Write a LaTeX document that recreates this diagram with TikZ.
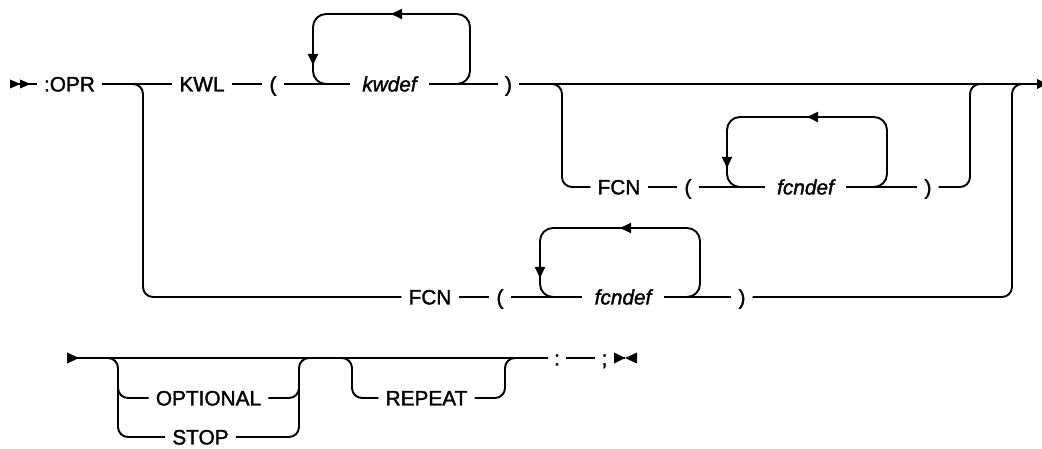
\documentclass[tikz,border=0pt]{standalone}
\usepackage{fontspec}
\setmainfont{Liberation Sans}[FakeBold=1.6]
\usetikzlibrary{arrows.meta}
\begin{document}
\begin{tikzpicture}[x=1pt,y=-1pt,
  rail/.style={line width=1.9pt},
  br/.style={rail, rounded corners=10pt},
  lp/.style={rail, rounded corners=13pt},
  tok/.style={inner xsep=7pt, inner ysep=0pt, text height=14.9pt, text depth=0pt, font=\fontsize{20.8}{24}\selectfont},
  var/.style={tok, inner xsep=12pt, font=\fontsize{20.8}{24}\selectfont\itshape},
  tip/.style={line width=1.9pt, -{Triangle[length=11pt,width=10pt]}},
  mk/.style={fill=black, draw=none}
]
\useasboundingbox (0,0) rectangle (1042,449);

% ---------- row 1 ----------
\coordinate (s1) at (10,84);
\coordinate (e1) at (1037,84);
\node[tok] (opr) at (69.5,84) {:OPR};
\node[tok] (kwl) at (202,84) {KWL};
\node[tok] (lp1) at (273,84) {(};
\node[var] (kwdef) at (389.5,84) {kwdef};
\node[tok] (rp1) at (508.5,84) {)};

\draw[rail] (s1) -- (opr);
\draw[rail] (opr) -- (kwl);
\draw[rail] (kwl) -- (lp1);
\draw[rail] (lp1) -- (kwdef);
\draw[rail] (kwdef) -- (rp1);
\draw[rail] (rp1) -- (e1);
\path[mk] (10,79.5) -- (20.5,84) -- (10,88.5) -- cycle;
\path[mk] (20,79.5) -- (30.5,84) -- (20,88.5) -- cycle;
\path[mk] (1037,79) -- (1047,84) -- (1037,89) -- cycle;

% kwdef repeat loop
\coordinate (k1) at (450,84);
\coordinate (k2) at (333,84);
\draw[lp] (k1) -- (470,84) -- (470,14) -- (313,14) -- (313,84) -- (k2);
\draw[tip] (402,14) -- (391,14);
\draw[tip] (313,50) -- (313,65);

% ---------- optional FCN branch (row 2) ----------
\node[tok] (fcn1) at (619,187) {FCN};
\node[tok] (lp2) at (688,187) {(};
\node[var] (fcndef1) at (805.5,187) {fcndef};
\node[tok] (rp2) at (928,187) {)};
\coordinate (b1) at (540,84);
\coordinate (b2) at (990,84);
\draw[br] (b1) -- (562,84) -- (562,187) -- (fcn1);
\draw[rail] (fcn1) -- (lp2);
\draw[rail] (lp2) -- (fcndef1);
\draw[rail] (fcndef1) -- (rp2);
\draw[br] (rp2) -- (970,187) -- (970,84) -- (b2);
\coordinate (f1) at (867,187);
\coordinate (f2) at (747,187);
\draw[lp] (f1) -- (887,187) -- (887,117) -- (727,117) -- (727,187) -- (f2);
\draw[tip] (818,117) -- (807,117);
\draw[tip] (727,153) -- (727,168);

% ---------- alternative FCN branch (row 3) ----------
\node[tok] (fcn2) at (430,297) {FCN};
\node[tok] (lp3) at (500,297) {(};
\node[var] (fcndef2) at (623,297) {fcndef};
\node[tok] (rp3) at (742,297) {)};
\coordinate (a1) at (123,84);
\coordinate (a2) at (1032,84);
\draw[br] (a1) -- (143,84) -- (143,297) -- (fcn2);
\draw[rail] (fcn2) -- (lp3);
\draw[rail] (lp3) -- (fcndef2);
\draw[rail] (fcndef2) -- (rp3);
\draw[br] (rp3) -- (1012,297) -- (1012,84) -- (a2);
\coordinate (g1) at (680,297);
\coordinate (g2) at (560,297);
\draw[lp] (g1) -- (700,297) -- (700,228) -- (540,228) -- (540,297) -- (g2);
\draw[tip] (631,228) -- (620,228);
\draw[tip] (540,263) -- (540,278);

% ---------- second line ----------
\coordinate (s3) at (68,358);
\coordinate (e3) at (625,358);
\path[mk] (67,352.5) -- (79,358) -- (67,363.5) -- cycle;
\node[tok, inner xsep=6pt] (col) at (557,358) {:};
\node[tok, inner xsep=6pt] (semi) at (604.5,358) {;};
\draw[rail] (s3) -- (col);
\draw[rail] (col) -- (semi);
\draw[rail] (semi) -- (e3);
\path[mk] (614,352.5) -- (625,358) -- (614,363.5) -- cycle;
\path[mk] (637,352.5) -- (625,358) -- (637,363.5) -- cycle;

\node[tok] (opt) at (208.5,398) {OPTIONAL};
\node[tok] (stop) at (200.5,437) {STOP};
\coordinate (o1) at (100,358);
\coordinate (o2) at (318,358);
\draw[br] (o1) -- (118,358) -- (118,437) -- (stop);
\draw[br] (118,380) -- (118,398) -- (opt);
\draw[br] (stop) -- (299,437) -- (299,358) -- (o2);
\draw[br] (opt) -- (299,398) -- (299,380);

\node[tok] (rep) at (426.5,398) {REPEAT};
\coordinate (r1) at (332,358);
\coordinate (r2) at (527,358);
\draw[br] (r1) -- (352,358) -- (352,398) -- (rep);
\draw[br] (rep) -- (505,398) -- (505,358) -- (r2);
\end{tikzpicture}
\end{document}
